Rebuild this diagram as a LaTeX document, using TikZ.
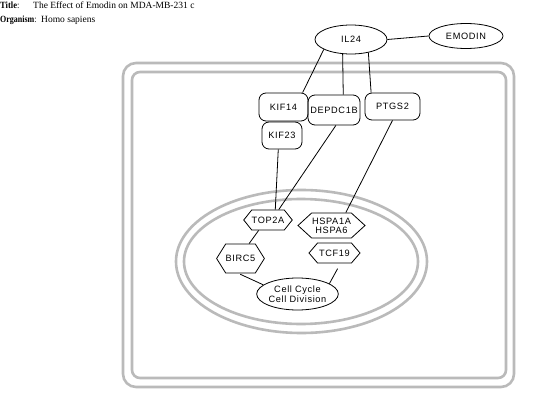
\documentclass[tikz,border=0pt]{standalone}
\usepackage{fontspec}
\setmainfont{Liberation Serif}
\newfontfamily\genefont[LetterSpace=7]{Liberation Sans}
\usetikzlibrary{shapes.geometric,shapes.symbols}

\begin{document}
\begin{tikzpicture}[x=1pt,y=-1pt,
  genetext/.style={font=\genefont\fontsize{9.2}{11}\selectfont, align=center},
  gene/.style={genetext, draw, rounded corners=7pt, line width=0.8pt, inner sep=0pt},
  hexnode/.style={genetext, draw, signal, signal to=east and west, line width=0.8pt, inner sep=0pt},
  oval/.style={genetext, draw, ellipse, line width=0.8pt, inner sep=0pt},
  membrane/.style={draw=black!27, line width=2.6pt},
  link/.style={line width=0.8pt},
  header/.style={anchor=base west, inner sep=0pt, font=\fontsize{9.5}{11}\selectfont}]

\path[use as bounding box, fill=white] (0,0) rectangle (539,412);

% header
\node[header] (titlekey) at (0,9) {\scalebox{0.9}[1]{\textbf{Title}:}};
\node[header] (titleval) at (33,9) {The Effect of Emodin on MDA-MB-231 c};
\node[header] (orgkey) at (0,22.5) {\scalebox{0.84}[1]{\textbf{Organism}:}};
\node[header] (orgval) at (41,22.5) {Homo sapiens};

% cell membrane and nucleus
\draw[membrane, rounded corners=13pt] (123,63) rectangle (514,387);
\draw[membrane, rounded corners=8pt] (132,72) rectangle (506,378);
\draw[membrane] (301.5,261.5) ellipse [x radius=125.5, y radius=71.5];
\draw[membrane] (301,261.5) ellipse [x radius=117, y radius=62.5];

% genes and compounds
\node[oval, minimum width=72pt, minimum height=29pt] (il24) at (351,39.5) {IL24};
\node[oval, minimum width=74pt, minimum height=25pt] (emodin) at (466,36) {EMODIN};
\node[gene, minimum width=49pt, minimum height=28pt] (kif14) at (283.5,107) {KIF14};
\node[gene, minimum width=52pt, minimum height=30pt] (depdc) at (334,110) {DEPDC1B};
\node[gene, minimum width=55pt, minimum height=27pt] (ptgs) at (392.5,106.5) {PTGS2};
\node[gene, minimum width=40pt, minimum height=27pt] (kif23) at (282,135.5) {KIF23};

\node[hexnode, signal pointer angle=103, minimum width=44pt, minimum height=20pt] (top2a) at (268,220) {TOP2A};
\node[hexnode, signal pointer angle=85, minimum width=67pt, minimum height=25pt] (hspa) at (331.5,225.5) {HSPA1A\\[-2pt]HSPA6};
\node[hexnode, signal pointer angle=116, minimum width=43pt, minimum height=29pt] (birc5) at (240.5,258.5) {BIRC5};
\node[hexnode, signal pointer angle=99, minimum width=51pt, minimum height=20pt] (tcf19) at (334.5,253) {TCF19};
\node[oval, minimum width=75pt, minimum height=32pt] (cellcycle) at (297.5,294) {Cell Cycle\\[-1pt]Cell Division};

% interactions
\draw[link] (il24.east) -- (emodin.west);
\draw[link] (il24.200) -- (kif14.37);
\draw[link] (il24.240) -- (depdc.59);
\draw[link] (il24.323) -- (ptgs.147);
\draw[link] (kif23.255) -- (top2a.55);
\draw[link] (depdc.277) -- (top2a.44);
\draw[link] (ptgs.south) -- (hspa.42);
\draw[link] (top2a.228) -- (birc5.60);
\draw[link, shorten <=2pt] (birc5.262) -- (cellcycle.165);
\draw[link, shorten <=6pt] (tcf19.300) -- (cellcycle.18);
\end{tikzpicture}
\end{document}
